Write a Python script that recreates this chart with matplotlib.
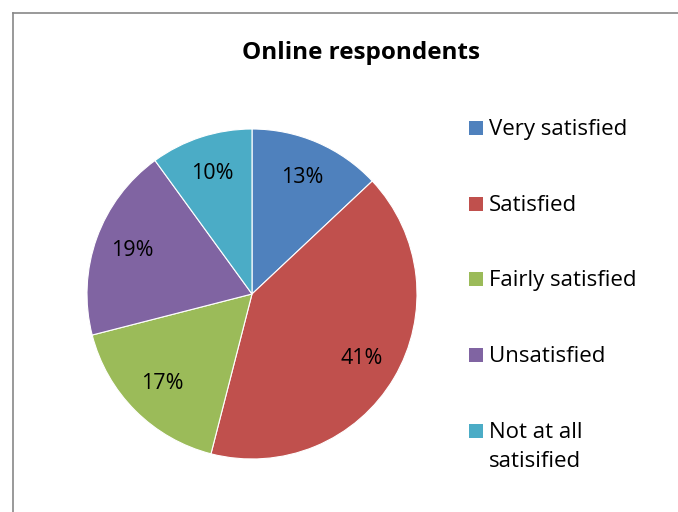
import matplotlib
matplotlib.use("Agg")
import matplotlib.pyplot as plt
from matplotlib.lines import Line2D
from matplotlib.patches import Rectangle

plt.rcParams["font.family"] = ["Open Sans", "DejaVu Sans"]

categories = ["Very satisfied", "Satisfied", "Fairly satisfied", "Unsatisfied",
              "Not at all\nsatisified"]
shares = [13, 41, 17, 19, 10]
colors = ["#4F81BD", "#C0504D", "#9BBB59", "#8064A2", "#4BACC6"]

W, H = 678, 512
fig = plt.figure(figsize=(W / 100, H / 100), dpi=100)

# chart frame (only left and top edges are inside the image)
frame = "#878787"
fig.add_artist(Line2D([12.5 / W, 12.5 / W], [0, 1 - 12.5 / H], color=frame, lw=1.2))
fig.add_artist(Line2D([12.5 / W, 1], [1 - 12.5 / H, 1 - 12.5 / H], color=frame, lw=1.2))

fig.text(361 / W, 1 - 53 / H, "Online respondents", ha="center", va="center",
         fontsize=17.5, fontweight="bold")

# pie: centre (252, 294), radius 165 px
cx, cy, r = 252, 294, 165
ax = fig.add_axes([(cx - r) / W, (H - cy - r) / H, 2 * r / W, 2 * r / H])
wedges, texts, autotexts = ax.pie(
    shares, colors=colors, startangle=90, counterclock=False, radius=1,
    autopct=lambda p: f"{p:.0f}%", pctdistance=0.77,
    wedgeprops=dict(edgecolor="white", linewidth=0.8),
    textprops=dict(fontsize=15.5, color="black"))
ax.set_xlim(-1, 1)
ax.set_ylim(-1, 1)
ax.set_aspect("equal")
ax.axis("off")

# legend drawn by hand to keep Excel-like spacing
legend_y = [128, 204, 279, 355, 431]
for lab, col, y in zip(categories, colors, legend_y):
    fig.add_artist(Rectangle((469 / W, 1 - (y + 7) / H), 14 / W, 14 / H,
                             facecolor=col, edgecolor="none"))
    fig.text(489 / W, 1 - (y - 9) / H, lab, ha="left", va="top",
             fontsize=16, linespacing=1.5)

fig.savefig("out.png", dpi=100)
